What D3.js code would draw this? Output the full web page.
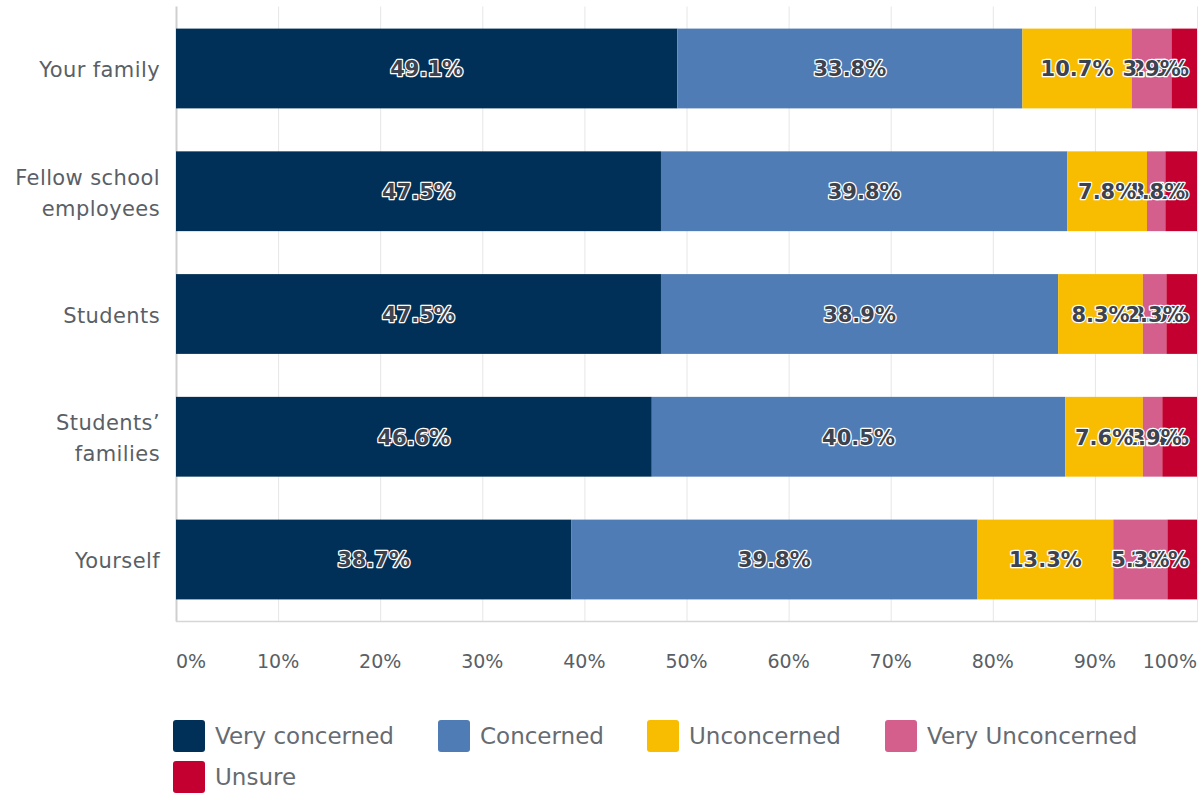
<!DOCTYPE html>
<html>
<head>
<meta charset="utf-8">
<script src="https://cdn.jsdelivr.net/npm/d3@7"></script>
<style>
  body { margin: 0; background: #fff; }
  svg { display: block; font-family: "DejaVu Sans", "Noto Sans", sans-serif; }
  .cat { fill: #5a5f66; font-size: 21px; letter-spacing: 0.4px; }
  .tick-label { fill: #5a5f66; font-size: 19px; }
  .val { fill: #3c434e; font-size: 21px; font-weight: bold; stroke: #fff; stroke-width: 2.5px; paint-order: stroke; stroke-linejoin: round; }
  .leg { fill: #666b72; font-size: 23px; }
</style>
</head>
<body>
<div id="chart"></div>
<script>
var categories = ["Your family", "Fellow school employees", "Students", "Students\u2019 families", "Yourself"];
var catLines = [["Your family"], ["Fellow school", "employees"], ["Students"], ["Students\u2019", "families"], ["Yourself"]];
var seriesNames = ["Very concerned", "Concerned", "Unconcerned", "Very Unconcerned", "Unsure"];
var colors = ["#002f57", "#4f7cb5", "#f8bd00", "#d45f8d", "#c3002f"];

var veryConcerned = [49.1, 47.5, 47.5, 46.6, 38.7];
var concerned = [33.8, 39.8, 38.9, 40.5, 39.8];
var unconcerned = [10.7, 7.8, 8.3, 7.6, 13.3];
var veryUnconcerned = [3.9, 1.8, 2.3, 1.9, 5.3];
var unsure = [2.5, 3.1, 3.0, 3.4, 2.9];

var tickValues = [0, 10, 20, 30, 40, 50, 60, 70, 80, 90, 100];

var seriesData = [veryConcerned, concerned, unconcerned, veryUnconcerned, unsure];

var width = 1203, height = 794;
var margin = {top: 6.5, right: 6, bottom: 172.5, left: 176};
var innerW = width - margin.left - margin.right;
var innerH = height - margin.top - margin.bottom;

var rows = categories.map(function (c, i) {
    var r = {category: c};
    seriesNames.forEach(function (s, j) { r[s] = seriesData[j][i]; });
    return r;
});

var stack = d3.stack().keys(seriesNames);
var layers = stack(rows);

var x = d3.scaleLinear().domain([0, 100]).range([0, innerW]);
var y = d3.scaleBand().domain(categories).range([0, innerH])
    .paddingInner(0.35).paddingOuter(0.18);
var color = d3.scaleOrdinal().domain(seriesNames).range(colors);

var svg = d3.select("#chart").append("svg")
    .attr("width", width)
    .attr("height", height);

var g = svg.append("g")
    .attr("transform", "translate(" + margin.left + "," + margin.top + ")");

// grid
g.append("g").attr("class", "grid")
    .selectAll("line")
    .data(tickValues)
    .enter().append("line")
    .attr("x1", function (d) { return x(d) + 0.5; })
    .attr("x2", function (d) { return x(d) + 0.5; })
    .attr("y1", 0)
    .attr("y2", innerH)
    .style("stroke", function (d) { return d === 0 ? "#cfcfcf" : "#e6e6e6"; })
    .style("stroke-width", function (d) { return d === 0 ? 2 : 1; });

g.append("line")
    .attr("x1", 0).attr("x2", innerW + 0.5)
    .attr("y1", innerH).attr("y2", innerH)
    .style("stroke", "#d6d6d6").style("stroke-width", 1.5);

// bars
var layer = g.selectAll(".layer")
    .data(layers)
    .enter().append("g")
    .attr("class", "layer")
    .attr("fill", function (d) { return color(d.key); });

layer.selectAll("rect")
    .data(function (d) { return d; })
    .enter().append("rect")
    .attr("x", function (d) { return x(d[0]); })
    .attr("y", function (d) { return y(d.data.category); })
    .attr("width", function (d) { return x(d[1]) - x(d[0]); })
    .attr("height", y.bandwidth());

// value labels (drawn last series first, kept inside the plot on the right)
layers.slice().reverse().forEach(function (l) {
    g.selectAll(null)
        .data(l)
        .enter().append("text")
        .attr("class", "val")
        .attr("x", function (d) { return (x(d[0]) + x(d[1])) / 2; })
        .attr("y", function (d) { return y(d.data.category) + y.bandwidth() / 2; })
        .attr("text-anchor", "middle")
        .attr("dy", "0.38em")
        .text(function (d) { return d3.format(".1f")(d[1] - d[0]) + "%"; })
        .each(function () {
            var t = d3.select(this);
            var w = this.getComputedTextLength();
            var cx = +t.attr("x");
            if (cx + w / 2 > innerW - 8) t.attr("x", innerW - 8 - w / 2);
        });
});

// category labels
categories.forEach(function (c, i) {
    var lines = catLines[i];
    var t = svg.append("text")
        .attr("class", "cat")
        .attr("text-anchor", "end")
        .attr("x", 160)
        .attr("y", margin.top + y(c) + y.bandwidth() / 2);
    lines.forEach(function (ln, k) {
        t.append("tspan")
            .attr("x", 160)
            .attr("dy", k === 0 ? (0.42 - (lines.length - 1) * 0.74) + "em" : "1.48em")
            .text(ln);
    });
});

// x tick labels
svg.append("g").selectAll("text")
    .data(tickValues)
    .enter().append("text")
    .attr("class", "tick-label")
    .attr("x", function (d) { return margin.left + x(d); })
    .attr("y", 668)
    .attr("text-anchor", function (d) { return d === 0 ? "start" : d === 100 ? "end" : "middle"; })
    .text(function (d) { return d + "%"; });

// legend
var legendPos = [[173, 720], [438, 720], [647, 720], [885, 720], [173, 761]];
var leg = svg.append("g").selectAll("g")
    .data(seriesNames)
    .enter().append("g")
    .attr("transform", function (d, i) { return "translate(" + legendPos[i][0] + "," + legendPos[i][1] + ")"; });

leg.append("rect")
    .attr("width", 32).attr("height", 32)
    .attr("rx", 3)
    .attr("fill", function (d) { return color(d); });

leg.append("text")
    .attr("class", "leg")
    .attr("x", 42)
    .attr("y", 16)
    .attr("dy", "0.36em")
    .text(function (d) { return d; });
</script>
</body>
</html>
